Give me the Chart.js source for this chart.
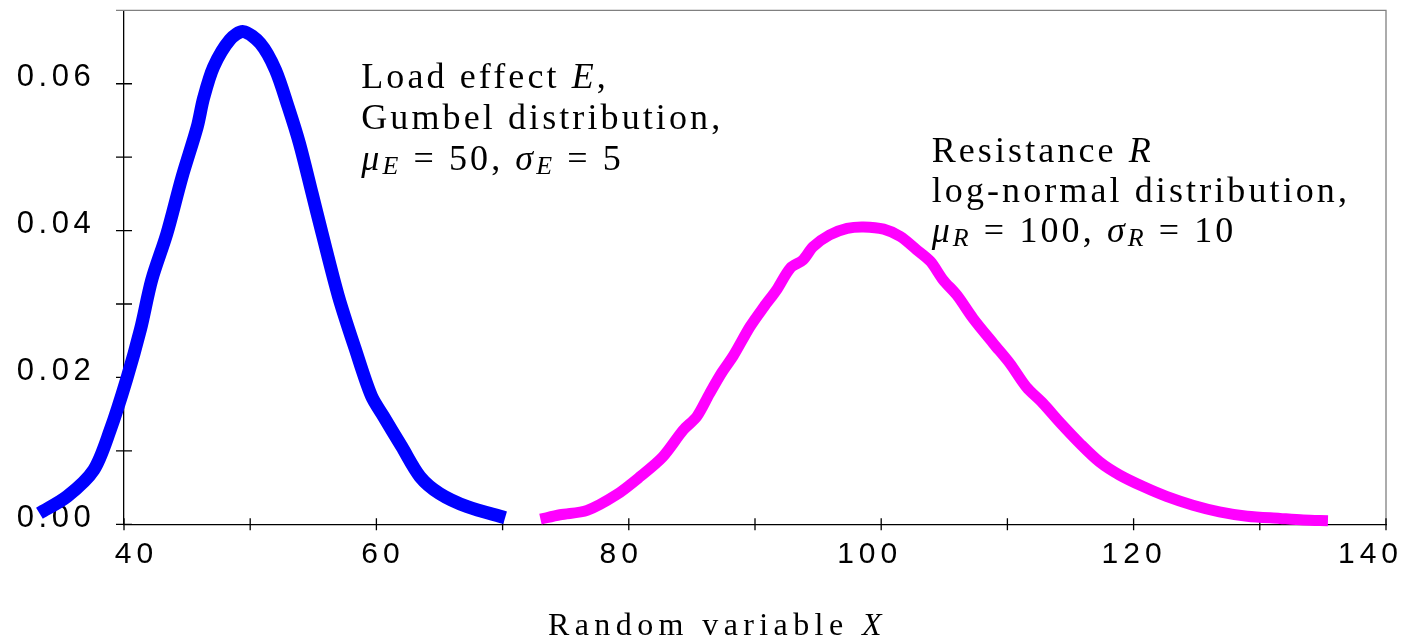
<!DOCTYPE html>
<html>
<head>
<meta charset="utf-8">
<script src="https://cdn.jsdelivr.net/npm/chart.js@4.4.1/dist/chart.umd.min.js"></script>
<style>
html,body{margin:0;padding:0;background:#fff;}
#wrap{width:1403px;height:641px;position:relative;}
</style>
</head>
<body>
<div id="wrap"><canvas id="chart"></canvas></div>
<script>
// load effect E (Gumbel)
const loadX=[33.3,35.5,37.6,38.9,40.2,41.3,42.2,43.4,44.6,45.8,46.3,47.1,48.4,49.45,50.8,52.0,53.0,53.9,54.9,55.7,57.0,58.3,59.6,60.6,62.0,63.45,65.0,67.2,70.2];
const loadPdf=[0.0015,0.0038,0.0074,0.0128,0.0197,0.0265,0.0333,0.0396,0.0473,0.0541,0.0580,0.0623,0.0660,0.0671,0.0655,0.0619,0.0569,0.0519,0.0451,0.0396,0.0310,0.0240,0.0175,0.0146,0.0106,0.0065,0.0042,0.0024,0.0009];
// resistance R (log-normal)
const resX=[73.0,74.55,76.7,79.0,80.9,82.7,84.3,85.4,86.4,87.35,88.3,89.6,90.7,91.7,92.8,93.8,94.6,95.9,97.3,98.6,100.2,101.5,102.8,103.9,104.9,106.0,107.3,108.9,110.2,111.5,112.8,114.2,115.75,117.3,118.9,120.8,122.6,124.7,126.8,129.0,131.6,133.45,135.4];
const resPdf=[0.0007,0.0013,0.0019,0.0040,0.0065,0.0092,0.0128,0.0147,0.0178,0.0206,0.0230,0.0269,0.0296,0.0319,0.0349,0.0360,0.0378,0.0394,0.0403,0.0405,0.0402,0.0392,0.0374,0.0358,0.0333,0.0312,0.0280,0.0246,0.0219,0.0187,0.0165,0.0138,0.0110,0.0085,0.0067,0.0051,0.0038,0.0026,0.0017,0.0011,0.0008,0.0006,0.0005];
const xLabels=[40,60,80,100,120,140];
const yLabels=['0.00','0.02','0.04','0.06'];
// horizontal nudge of each x label, as in the original layout
const xLabelShift=[10,4,-10,-14,-2,-18];

const pts=(xs,ys)=>xs.map((x,i)=>({x:x,y:ys[i]}));

const notes=[
  {x:58.8,y:0.0594,gap:41,lines:[
    [{t:'Load effect '},{t:'E',it:1},{t:','}],
    [{t:'Gumbel distribution,'}],
    [{t:'μ',it:1},{t:'E',it:1,sub:1},{t:' = 50, '},{t:'σ',it:1},{t:'E',it:1,sub:1},{t:' = 5'}]
  ]},
  {x:104.0,y:0.0494,gap:40,lines:[
    [{t:'Resistance '},{t:'R',it:1}],
    [{t:'log-normal distribution,'}],
    [{t:'μ',it:1},{t:'R',it:1,sub:1},{t:' = 100, '},{t:'σ',it:1},{t:'R',it:1,sub:1},{t:' = 10'}]
  ]}
];

function rich(ctx,x,y,segs,size,spacing){
  ctx.letterSpacing=spacing+'px';
  ctx.textAlign='left';ctx.textBaseline='alphabetic';
  segs.forEach(s=>{
    const fs=s.sub?size*0.72:size;
    ctx.font=(s.it?'italic ':'')+fs+'px "Liberation Serif"';
    ctx.fillText(s.t,x,s.sub?y+4:y);
    x+=ctx.measureText(s.t).width;
  });
}

const noPad=s=>{s.paddingTop=0;s.paddingBottom=0;s.paddingLeft=0;s.paddingRight=0;};

const frame={
  id:'frame',
  beforeDraw(chart){chart.ctx.letterSpacing='4.5px';},
  beforeDatasetsDraw(chart){
    const {ctx,chartArea:a,scales:{x,y}}=chart;
    ctx.save();
    ctx.letterSpacing='0px';
    ctx.lineWidth=1.3;
    ctx.strokeStyle='#808080';
    ctx.beginPath();
    ctx.moveTo(a.left-8,a.top);ctx.lineTo(a.right,a.top);ctx.lineTo(a.right,a.bottom);
    ctx.stroke();
    ctx.strokeStyle='#000';
    ctx.beginPath();
    y.ticks.forEach(t=>{const p=y.getPixelForValue(t.value);if(t.value>0.069)return;ctx.moveTo(a.left-8,p);ctx.lineTo(a.left+8,p);});
    x.ticks.forEach(t=>{const p=x.getPixelForValue(t.value);ctx.moveTo(p,a.bottom-6);ctx.lineTo(p,a.bottom+6);});
    ctx.stroke();
    // x tick labels
    ctx.letterSpacing='5px';
    ctx.font='30px "Liberation Sans"';
    ctx.fillStyle='#000';ctx.textAlign='left';ctx.textBaseline='alphabetic';
    xLabels.forEach((v,i)=>{
      const s=String(v),w=ctx.measureText(s).width-5;
      ctx.fillText(s,x.getPixelForValue(v)+xLabelShift[i]-w/2,a.bottom+39);
    });
    ctx.restore();
  },
  afterDraw(chart){
    const {ctx,scales:{x,y}}=chart;
    ctx.save();
    ctx.fillStyle='#000';
    notes.forEach(n=>{
      const px=x.getPixelForValue(n.x),py=y.getPixelForValue(n.y);
      n.lines.forEach((l,i)=>rich(ctx,px,py+i*n.gap,l,36,3.1));
    });
    rich(ctx,548,635,[{t:'Random variable '},{t:'X',it:1}],32,5.4);
    ctx.restore();
    ctx.letterSpacing='0px';
  }
};

new Chart(document.getElementById('chart'),{
  type:'line',
  data:{datasets:[
    {label:'Load effect E',data:pts(loadX,loadPdf),borderColor:'#0000ff',borderWidth:13,pointRadius:0,tension:0.3,clip:false,borderCapStyle:'butt',borderJoinStyle:'round'},
    {label:'Resistance R',data:pts(resX,resPdf),borderColor:'#ff00ff',borderWidth:11,pointRadius:0,tension:0.3,clip:false,borderCapStyle:'butt',borderJoinStyle:'round'}
  ]},
  options:{
    responsive:true,maintainAspectRatio:false,animation:false,
    layout:{padding:{top:10.3,right:17,left:0,bottom:0}},
    plugins:{legend:{display:false},tooltip:{enabled:false}},
    scales:{
      x:{type:'linear',
        afterDataLimits:s=>{s.min=40;s.max=140;},
        afterFit:s=>{s.height=116.7;noPad(s);},
        grid:{display:false,drawTicks:false},
        border:{display:true,color:'#000',width:1.3},
        ticks:{display:false,stepSize:10,autoSkip:false,maxRotation:0}},
      y:{type:'linear',min:0,max:0.07,
        afterFit:s=>{s.width=124;noPad(s);},
        grid:{display:false,drawTicks:false},
        border:{display:true,color:'#000',width:1.3},
        ticks:{stepSize:0.01,autoSkip:false,padding:28.8,labelOffset:-6,color:'#000',font:{family:'"Liberation Sans"',size:31},
          callback:v=>{const k=Math.round(v*100);return k%2===0&&k<7?yLabels[k/2]:'';}}}
    }
  },
  plugins:[frame]
});
</script>
</body>
</html>
